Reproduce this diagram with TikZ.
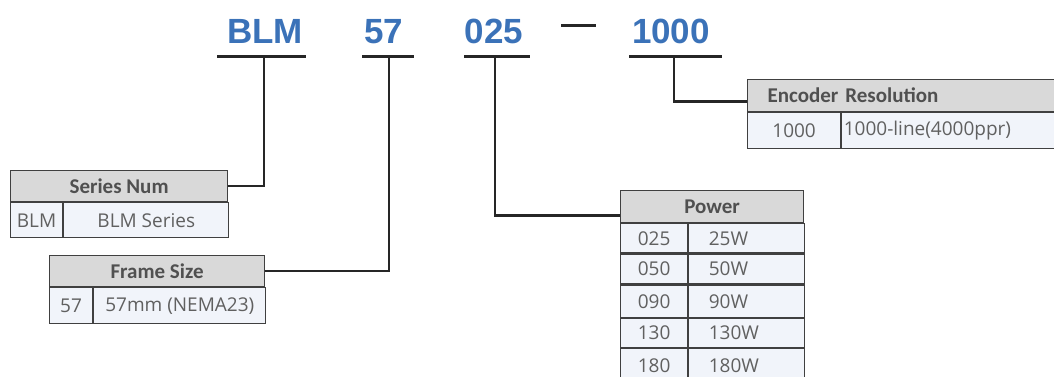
\documentclass[tikz,border=0pt]{standalone}
\usepackage{fontspec}
\setmainfont{Liberation Sans}
\newfontfamily\hdrfont{Carlito}
\newfontfamily\bodyfont{Open Sans}
\usetikzlibrary{positioning}

\definecolor{titleblue}{HTML}{3B72B8}
\definecolor{hdrgray}{HTML}{D9D9D9}
\definecolor{cellblue}{HTML}{F1F4FA}
\definecolor{tline}{HTML}{404040}
\definecolor{hdrtxt}{HTML}{505050}
\definecolor{celltxt}{HTML}{606060}

\tikzset{
  code/.style={font=\bfseries\fontsize{35}{38}\selectfont, text=titleblue, inner sep=0pt, anchor=base},
  uline/.style={line width=3pt, black!85},
  link/.style={line width=2.4pt, black!85},
  hdr/.style={draw=tline, fill=hdrgray, line width=1.2pt, inner sep=0pt, anchor=north west,
    minimum height=31pt, font=\hdrfont\bfseries\fontsize{21}{24}\selectfont, text=hdrtxt},
  cell/.style={draw=tline, fill=cellblue, line width=1.2pt, inner sep=0pt, anchor=north west,
    minimum height=35pt, font=\bodyfont\fontsize{19}{22}\selectfont, text=celltxt}
}

\begin{document}
\begin{tikzpicture}[x=1pt, y=-1pt]
  \useasboundingbox (0,0) rectangle (1054,376);
  \clip (0,0) rectangle (1054,376);

  % Model code
  \node[code] (blm) at (265,43) {BLM};
  \node[code] (frm) at (384,43) {57};
  \node[code] (pwr) at (494,43) {025};
  \node[code] (enc) at (671,43) {1000};
  \draw[uline] (561,25) -- (596,25);

  % Underlines and taps
  \draw[uline] (217,56) -- (306,56);
  \draw[uline] (362,56) -- (414,56);
  \draw[uline] (464,56) -- (530,56);
  \draw[uline] (629,56) -- (722,56);
  \coordinate (blmtap) at (264,56);
  \coordinate (frmtap) at (389,56);
  \coordinate (pwrtap) at (495,56);
  \coordinate (enctap) at (674,56);

  % Series Num
  \node[hdr, minimum width=217pt] (snhead) at (10,170) {Series Num};
  \node[cell, minimum width=52pt] (snkey) at (snhead.south west) {BLM};
  \node[cell, minimum width=165pt] (snval) at (snkey.north east) {BLM Series};

  % Frame Size
  \node[hdr, minimum width=215pt] (fshead) at (49,255) {Frame Size};
  \node[cell, minimum width=43pt, minimum height=36pt] (fskey) at (fshead.south west) {57};
  \node[cell, minimum width=172pt, minimum height=36pt] (fsval) at (fskey.north east) {57mm (NEMA23)};

  % Power
  \node[hdr, minimum width=183pt, minimum height=32pt] (pwhead) at (620,190) {Power};
  \node[cell, minimum width=67pt, minimum height=29pt] (pwkeya) at (pwhead.south west) {025};
  \node[cell, minimum width=116pt, minimum height=29pt, text width=76pt, inner xsep=20pt, align=left] (pwvala) at (pwkeya.north east) {25W};
  \node[cell, minimum width=67pt, minimum height=30pt] (pwkeyb) at (pwkeya.south west) {050};
  \node[cell, minimum width=116pt, minimum height=30pt, text width=76pt, inner xsep=20pt, align=left] (pwvalb) at (pwkeyb.north east) {50W};
  \node[cell, minimum width=67pt, minimum height=32pt] (pwkeyc) at (pwkeyb.south west) {090};
  \node[cell, minimum width=116pt, minimum height=32pt, text width=76pt, inner xsep=20pt, align=left] (pwvalc) at (pwkeyc.north east) {90W};
  \node[cell, minimum width=67pt, minimum height=29pt] (pwkeyd) at (pwkeyc.south west) {130};
  \node[cell, minimum width=116pt, minimum height=29pt, text width=76pt, inner xsep=20pt, align=left] (pwvald) at (pwkeyd.north east) {130W};
  \node[cell, minimum width=67pt, minimum height=34pt] (pwkeye) at (pwkeyd.south west) {180};
  \node[cell, minimum width=116pt, minimum height=34pt, text width=76pt, inner xsep=20pt, align=left] (pwvale) at (pwkeye.north east) {180W};

  % Encoder Resolution
  \node[hdr, minimum width=313pt, minimum height=32pt, text width=293pt, inner xsep=20pt, align=left] (enhead) at (747,79) {Encoder Resolution};
  \node[cell, minimum width=93pt, minimum height=36pt] (enkey) at (enhead.south west) {1000};
  \node[cell, minimum width=220pt, minimum height=36pt, text width=218pt, inner xsep=2pt, align=left] (enval) at (enkey.north east) {1000-line(4000ppr)};

  % Connectors
  \draw[link] (blmtap) |- (snhead.east);
  \draw[link] (frmtap) |- (fshead.east);
  \draw[link] (pwrtap) |- ([yshift=-9pt]pwhead.west);
  \draw[link] (enctap) |- ([yshift=-6pt]enhead.west);
\end{tikzpicture}
\end{document}
